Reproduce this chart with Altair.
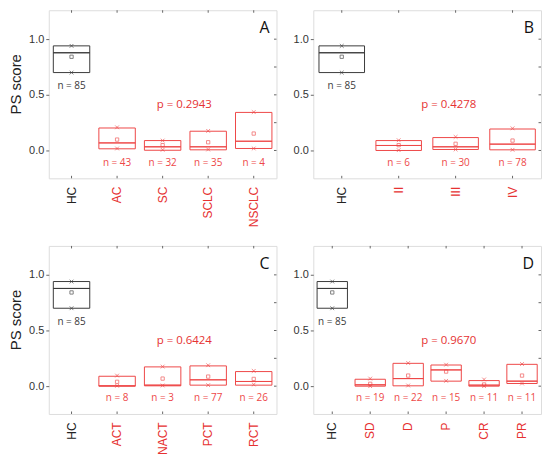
import altair as alt
import pandas as pd

RED_TXT = "#e63232"
RED_LINE = "#ee4848"
DARK = "#3a3a3a"
FRAME = "#666666"

# ---------------- data ----------------
# Panel A
a_cats = ["HC", "AC", "SC", "SCLC", "NSCLC"]
a_q3 = [0.940, 0.202, 0.089, 0.173, 0.342]
a_q1 = [0.700, 0.015, 0.002, 0.006, 0.018]
a_med = [0.878, 0.068, 0.033, 0.033, 0.083]
a_mean = [0.842, 0.098, 0.048, 0.074, 0.152]
a_hi = [0.940, 0.208, 0.089, 0.176, 0.345]
a_lo = [0.700, 0.018, 0.006, 0.009, 0.018]
a_n = [85, 43, 32, 35, 4]

# Panel B
b_cats = ["HC", "II", "III", "IV"]
b_q3 = [0.940, 0.089, 0.116, 0.193]
b_q1 = [0.700, 0.000, 0.009, 0.006]
b_med = [0.878, 0.045, 0.033, 0.057]
b_mean = [0.842, 0.048, 0.060, 0.089]
b_hi = [0.940, 0.092, 0.122, 0.199]
b_lo = [0.700, 0.003, 0.009, 0.006]
b_n = [85, 6, 30, 78]

# Panel C
c_cats = ["HC", "ACT", "NACT", "PCT", "RCT"]
c_q3 = [0.940, 0.089, 0.173, 0.182, 0.131]
c_q1 = [0.700, 0.000, 0.003, 0.009, 0.009]
c_med = [0.878, 0.003, 0.009, 0.057, 0.042]
c_mean = [0.842, 0.039, 0.068, 0.086, 0.065]
c_hi = [0.940, 0.095, 0.176, 0.188, 0.137]
c_lo = [0.700, 0.003, 0.006, 0.009, 0.015]
c_n = [85, 8, 3, 77, 26]

# Panel D
d_cats = ["HC", "SD", "D", "P", "CR", "PR"]
d_q3 = [0.940, 0.062, 0.205, 0.190, 0.050, 0.196]
d_q1 = [0.700, 0.000, 0.003, 0.045, 0.000, 0.024]
d_med = [0.878, 0.012, 0.068, 0.146, 0.009, 0.045]
d_mean = [0.842, 0.021, 0.095, 0.131, 0.015, 0.095]
d_hi = [0.940, 0.068, 0.208, 0.193, 0.060, 0.199]
d_lo = [0.700, 0.000, 0.006, 0.048, 0.000, 0.024]
d_n = [85, 19, 22, 15, 11, 11]

p_labels = ["p = 0.2943", "p = 0.4278", "p = 0.6424", "p = 0.9670"]
letters = ["A", "B", "C", "D"]

major_ticks = [0.0, 0.5, 1.0]
all_ticks = [0.0, 0.25, 0.5, 0.75, 1.0]

W = 229
H = 169
Y_DOMAIN = [-0.25, 1.26]


def panel(cats, q1, q3, med, mean, lo, hi, n, ptxt, letter, title):
    df = pd.DataFrame({
        "cat": cats, "q1": q1, "q3": q3, "med": med, "mean": mean,
        "lo": lo, "hi": hi,
        "nlab": [f"n = {v}" for v in n],
        "grp": ["HC" if c == "HC" else "pat" for c in cats],
    })
    xs = alt.Scale(domain=cats, paddingInner=0.2, paddingOuter=0.1)
    ys = alt.Scale(domain=Y_DOMAIN, nice=False, zero=False)
    col = alt.Color("grp:N", scale=alt.Scale(domain=["HC", "pat"], range=[DARK, RED_LINE]), legend=None)
    tcol = alt.Color("grp:N", scale=alt.Scale(domain=["HC", "pat"], range=[DARK, RED_TXT]), legend=None)

    x_enc = alt.X("cat:N", scale=xs, sort=cats, title=None,
                  axis=alt.Axis(labelAngle=-90, labelFont="Liberation Sans", labelFontSize=12,
                                labelColor={"expr": f"datum.value == 'HC' ? '#222222' : '{RED_TXT}'"},
                                ticks=False, tickSize=0, domain=False, labelPadding=8))
    y_axis = alt.Axis(values=major_ticks, format=".1f", grid=False, domain=False,
                      tickSize=3, tickColor=FRAME, labelFont="Liberation Sans", labelFontSize=11,
                      labelColor="#333333", labelPadding=2,
                      title=title if title else None,
                      titleFont="Liberation Sans", titleFontSize=15, titleFontWeight="normal",
                      titleColor="#222222", titlePadding=5, titleY=74)
    y_enc = alt.Y("q3:Q", scale=ys, axis=y_axis)

    base = alt.Chart(df)
    box = base.mark_bar(filled=False, strokeWidth=1).encode(x=x_enc, y=y_enc, y2="q1:Q", color=col)
    medl = base.mark_bar(filled=False, strokeWidth=1).encode(
        x=alt.X("cat:N", scale=xs, sort=cats), y=alt.Y("med:Q"), y2="med:Q", color=col)
    meanp = base.mark_point(shape="square", filled=False, size=11, strokeWidth=0.9).encode(
        x=alt.X("cat:N", scale=xs, sort=cats), y="mean:Q", color=col)
    xshape = "M-1,-1L1,1M-1,1L1,-1"
    hip = base.mark_point(shape=xshape, filled=False, size=14, strokeWidth=0.9).encode(
        x=alt.X("cat:N", scale=xs, sort=cats), y="hi:Q", color=col)
    lop = base.mark_point(shape=xshape, filled=False, size=14, strokeWidth=0.9).encode(
        x=alt.X("cat:N", scale=xs, sort=cats), y="lo:Q", color=col)

    n_hc = base.transform_filter("datum.cat == 'HC'").mark_text(
        font="Open Sans", fontSize=10, baseline="middle", dy=13.5).encode(
        x=alt.X("cat:N", scale=xs, sort=cats), y="q1:Q", text="nlab:N", color=tcol)
    n_pat = base.transform_filter("datum.cat != 'HC'").mark_text(
        font="Open Sans", fontSize=10, baseline="middle").encode(
        x=alt.X("cat:N", scale=xs, sort=cats), y=alt.datum(-0.11), text="nlab:N", color=tcol)

    ptext = alt.Chart(pd.DataFrame({"t": [ptxt]})).mark_text(
        font="Open Sans", fontSize=11.5, color=RED_TXT, baseline="middle", align="center").encode(
        x=alt.value(W * 0.595), y=alt.datum(0.41), text="t:N")
    ltext = alt.Chart(pd.DataFrame({"t": [letter]})).mark_text(
        font="Open Sans", fontSize=16, color="#111111", baseline="alphabetic", align="right").encode(
        x=alt.value(W - 7), y=alt.value(23), text="t:N")

    tdf = pd.DataFrame({"v": all_ticks})
    rticks = alt.Chart(tdf).mark_rule(color=FRAME, strokeWidth=1).encode(
        x=alt.value(W - 2.5), x2=alt.value(W), y="v:Q")
    cdf = pd.DataFrame({"cat": cats})
    bticks = alt.Chart(cdf).mark_rule(color=FRAME, strokeWidth=1).encode(
        x=alt.X("cat:N", scale=xs, sort=cats), y=alt.value(H - 2.5), y2=alt.value(H))
    tticks = alt.Chart(cdf).mark_rule(color=FRAME, strokeWidth=1).encode(
        x=alt.X("cat:N", scale=xs, sort=cats), y=alt.value(0), y2=alt.value(2.5))

    return alt.layer(box, medl, meanp, hip, lop, n_hc, n_pat, ptext, ltext,
                     rticks, bticks, tticks).properties(width=W, height=H)


pA = panel(a_cats, a_q1, a_q3, a_med, a_mean, a_lo, a_hi, a_n, p_labels[0], letters[0], "PS score")
pB = panel(b_cats, b_q1, b_q3, b_med, b_mean, b_lo, b_hi, b_n, p_labels[1], letters[1], None)
pC = panel(c_cats, c_q1, c_q3, c_med, c_mean, c_lo, c_hi, c_n, p_labels[2], letters[2], "PS score")
pD = panel(d_cats, d_q1, d_q3, d_med, d_mean, d_lo, d_hi, d_n, p_labels[3], letters[3], None)

row1 = alt.hconcat(pA, pB, spacing=15)
row2 = alt.hconcat(pC, pD, spacing=15)
chart = alt.vconcat(row1, row2, spacing=17).properties(padding=0).configure_view(
    stroke=FRAME, strokeWidth=1).configure(background="white")

chart.save("out.html", embed_options={"renderer": "svg", "actions": False})
